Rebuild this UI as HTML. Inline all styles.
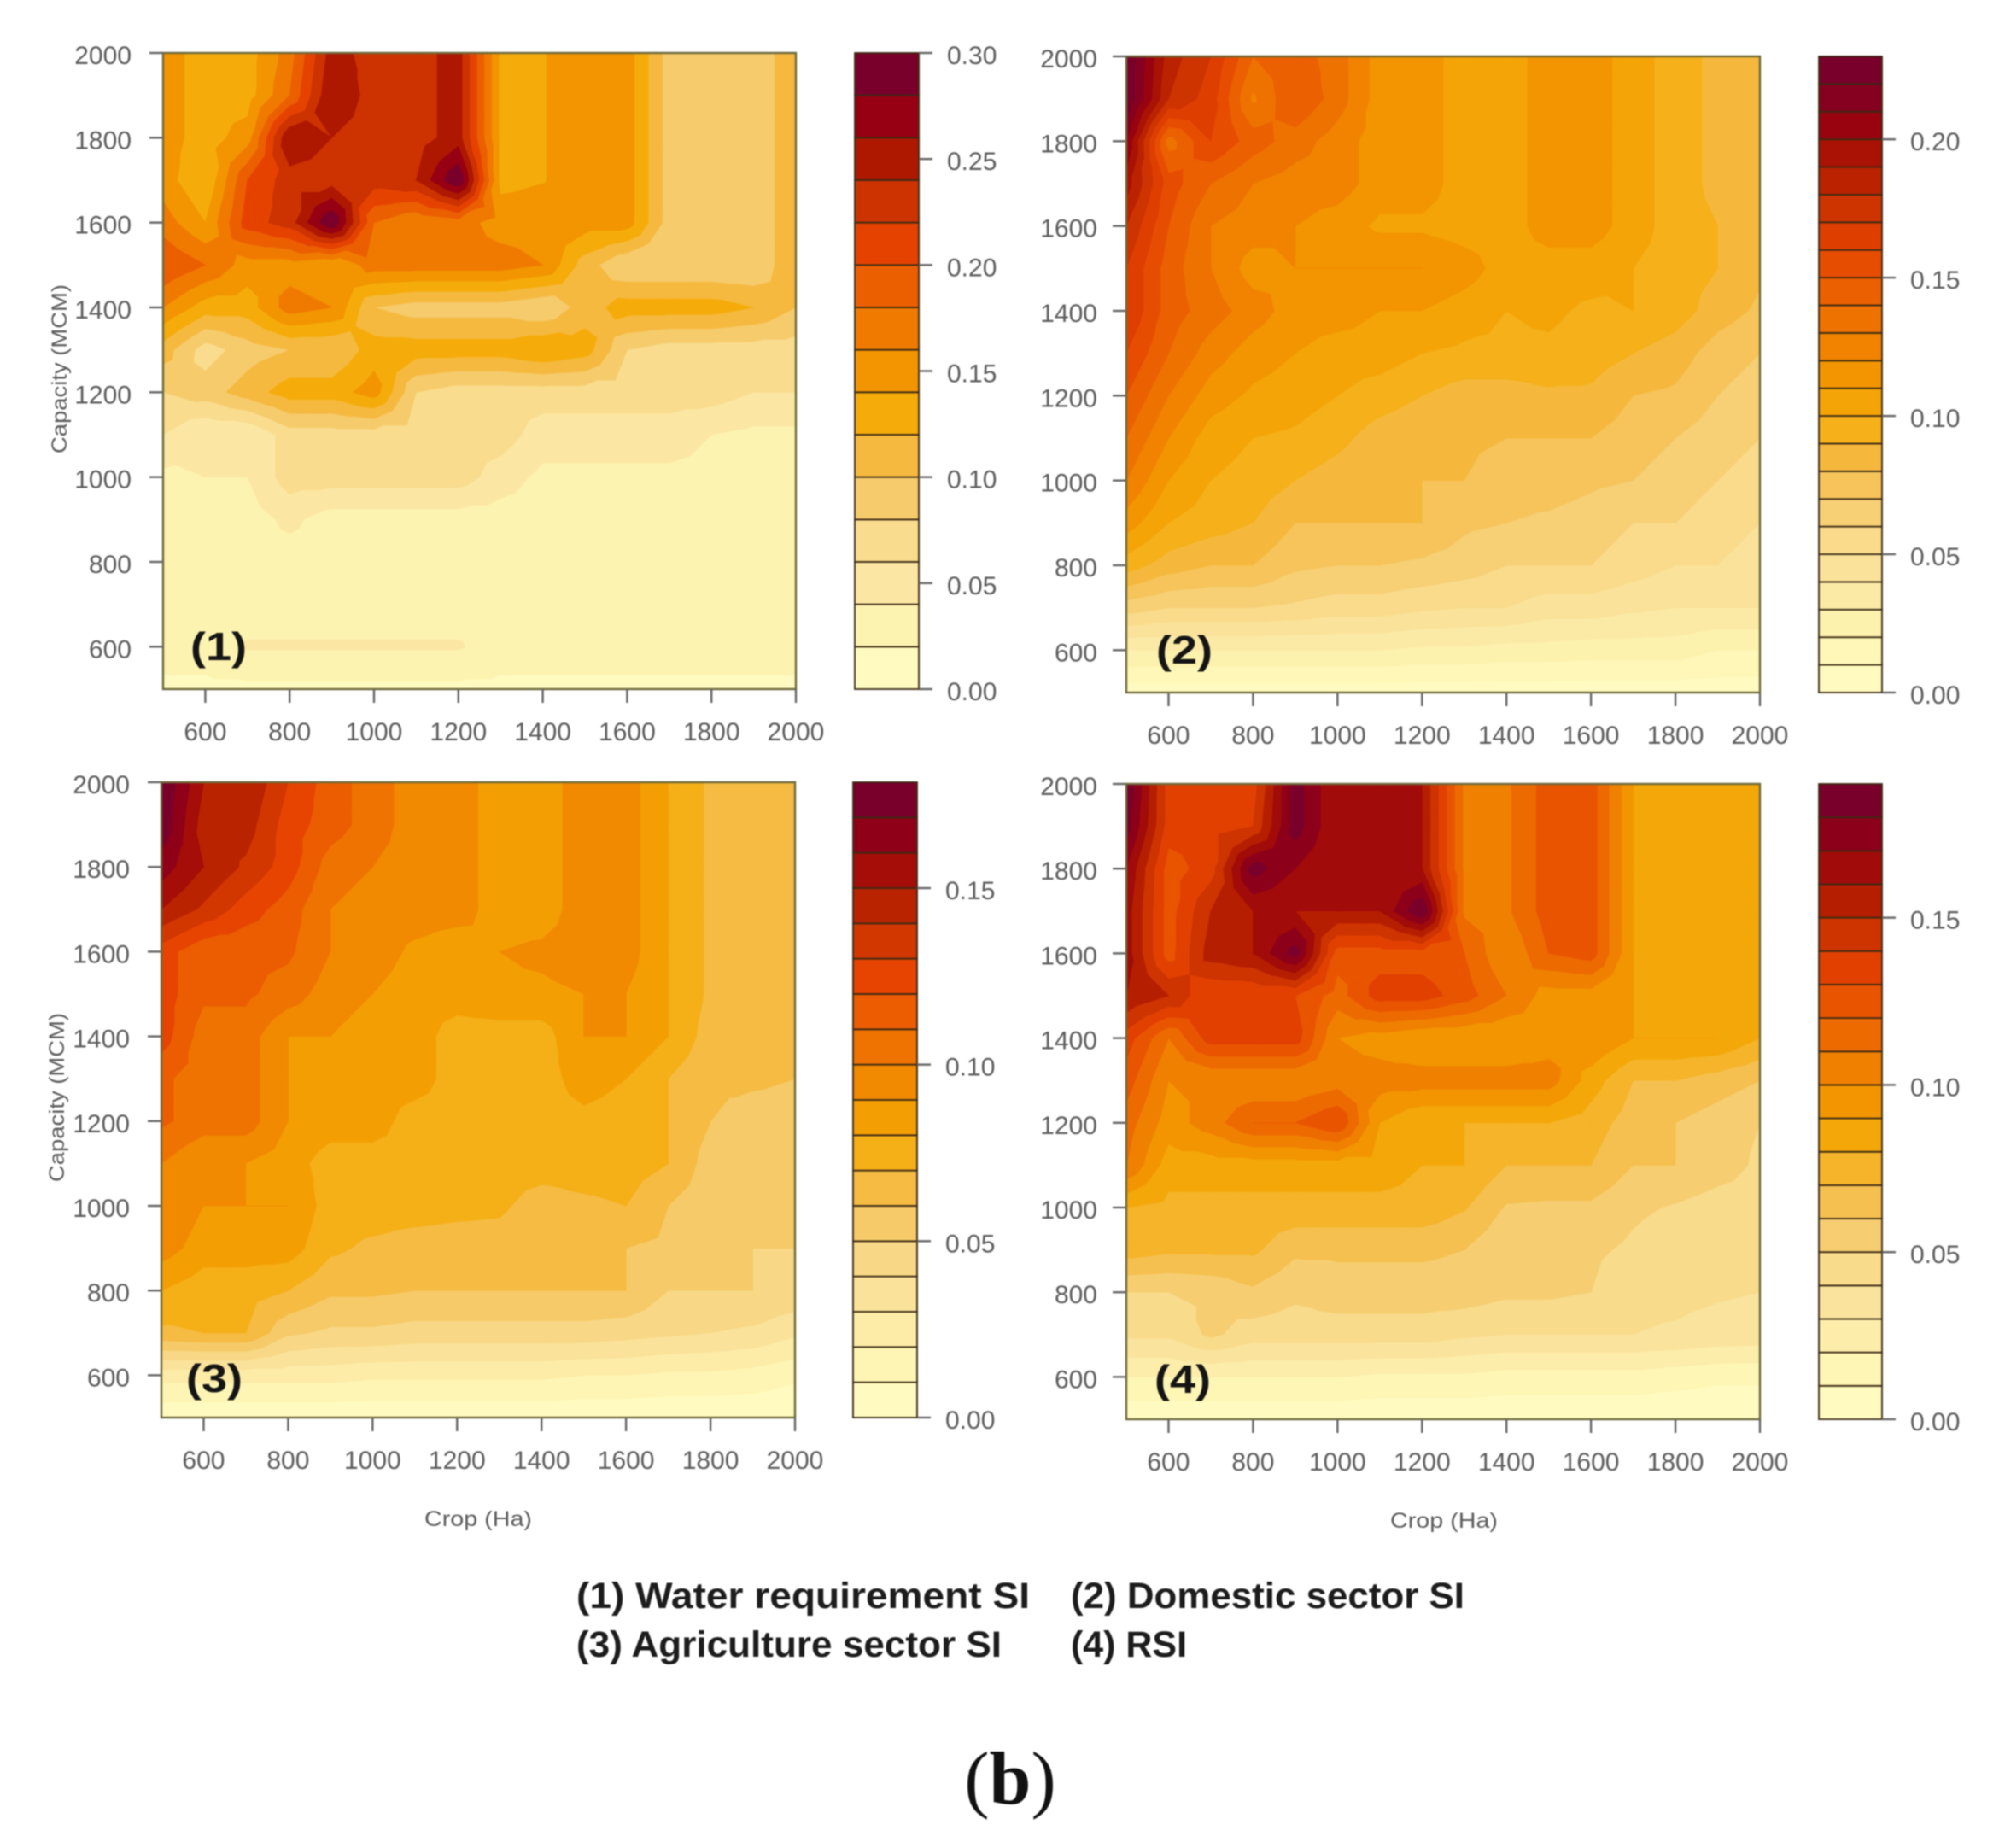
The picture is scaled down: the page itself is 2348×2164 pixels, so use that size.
<!DOCTYPE html>
<html lang="en">
<head>
<meta charset="utf-8">
<title>Sensitivity contour plots</title>
<style>
html,body{margin:0;padding:0;background:#fff;}
body{width:2348px;height:2164px;overflow:hidden;}
svg{display:block;filter:blur(0.9px);}
text{font-family:"Liberation Sans",sans-serif;}
</style>
</head>
<body>
<svg id="figure" xmlns="http://www.w3.org/2000/svg" width="2348" height="2164" viewBox="0 0 2348 2164">
  <rect width="2348" height="2164" fill="#fff"/>
  <g id="panels"></g>
  <g font-weight="700" font-size="43" fill="#1c1c1c">
    <text x="675" y="1883" textLength="531" lengthAdjust="spacingAndGlyphs">(1) Water requirement SI</text>
    <text x="1254" y="1883" textLength="461" lengthAdjust="spacingAndGlyphs">(2) Domestic sector SI</text>
    <text x="675" y="1940" textLength="498" lengthAdjust="spacingAndGlyphs">(3) Agriculture sector SI</text>
    <text x="1254" y="1940" textLength="136" lengthAdjust="spacingAndGlyphs">(4) RSI</text>
  </g>
  <text x="1183" y="2112" text-anchor="middle" font-size="88" fill="#111" style="font-family:'Liberation Serif',serif">(<tspan font-weight="700">b</tspan>)</text>
</svg>
<script>
const cropValues = [500,600,700,800,900,1000,1100,1200,1300,1400,1500,1600,1700,1800,1900,2000];
const capacityValues = [2000,1900,1800,1700,1600,1500,1400,1300,1200,1100,1000,900,800,700,600,500];
const xTickLabels = [600,800,1000,1200,1400,1600,1800,2000];
const yTickLabels = [600,800,1000,1200,1400,1600,1800,2000];

const waterRequirementSI = [
[.15,.13,.13,.17,.25,.23,.23,.25,.135,.139,.15,.15,.09,.09,.09,.11],
[.15,.13,.13,.18,.26,.23,.23,.25,.135,.139,.15,.15,.09,.09,.09,.11],
[.15,.13,.15,.26,.24,.23,.23,.25,.135,.139,.15,.15,.09,.09,.09,.11],
[.15,.12,.20,.23,.23,.23,.24,.30,.135,.139,.15,.15,.09,.09,.09,.11],
[.17,.14,.21,.23,.30,.18,.16,.17,.15,.15,.15,.15,.09,.09,.09,.11],
[.20,.18,.15,.15,.14,.17,.17,.17,.17,.16,.11,.08,.08,.08,.08,.12],
[.16,.13,.13,.17,.16,.10,.09,.09,.09,.08,.11,.13,.13,.13,.12,.10],
[.11,.07,.09,.10,.10,.13,.13,.13,.13,.14,.13,.08,.07,.07,.07,.07],
[.08,.09,.11,.13,.13,.15,.08,.07,.07,.07,.07,.07,.07,.07,.06,.06],
[.06,.04,.04,.07,.07,.07,.07,.07,.07,.05,.05,.05,.05,.04,.035,.035],
[.035,.04,.04,.07,.07,.07,.07,.07,.05,.035,.035,.035,.035,.035,.03,.03],
[.03,.03,.03,.045,.03,.03,.03,.03,.03,.03,.03,.03,.03,.03,.03,.03],
[.03,.03,.03,.03,.03,.03,.03,.03,.03,.03,.03,.03,.03,.03,.03,.03],
[.03,.03,.03,.03,.03,.03,.03,.03,.03,.03,.03,.03,.03,.03,.03,.03],
[.03,.03,.042,.042,.042,.042,.042,.042,.03,.03,.03,.03,.03,.03,.03,.03],
[.015,.015,.015,.015,.015,.015,.015,.015,.015,.015,.015,.015,.015,.015,.015,.015]
];

const domesticSectorSI = [
[.23,.185,.17,.14,.145,.135,.115,.115,.105,.105,.115,.115,.105,.095,.087,.085],
[.23,.18,.165,.128,.15,.135,.115,.115,.105,.105,.115,.115,.105,.095,.087,.085],
[.21,.135,.16,.145,.135,.125,.115,.115,.105,.105,.115,.115,.105,.095,.087,.085],
[.195,.155,.14,.13,.125,.125,.115,.115,.105,.105,.115,.115,.105,.095,.087,.085],
[.18,.15,.13,.125,.12,.115,.108,.108,.105,.105,.115,.115,.105,.095,.09,.085],
[.17,.145,.13,.115,.12,.12,.12,.12,.115,.105,.105,.105,.10,.095,.09,.082],
[.17,.145,.135,.125,.115,.115,.11,.11,.105,.10,.102,.098,.10,.095,.085,.078],
[.16,.14,.125,.115,.11,.105,.105,.10,.098,.098,.098,.095,.09,.085,.075,.07],
[.15,.13,.115,.108,.105,.10,.095,.09,.085,.085,.088,.088,.08,.078,.07,.065],
[.14,.12,.105,.10,.098,.093,.085,.082,.082,.08,.08,.08,.075,.07,.065,.06],
[.13,.11,.10,.096,.09,.085,.08,.08,.08,.075,.075,.072,.07,.065,.06,.055],
[.115,.10,.095,.09,.08,.08,.08,.08,.072,.07,.068,.065,.06,.06,.055,.05],
[.095,.085,.08,.08,.072,.07,.07,.068,.065,.06,.06,.06,.055,.05,.05,.045],
[.065,.06,.06,.06,.058,.055,.055,.052,.05,.05,.045,.045,.042,.04,.04,.04],
[.03,.03,.03,.03,.03,.03,.03,.028,.028,.026,.026,.025,.025,.025,.02,.02],
[.004,.004,.004,.004,.004,.004,.004,.004,.004,.004,.004,.004,.004,.004,.004,.004]
];

const agricultureSectorSI = [
[.18,.15,.15,.13,.115,.105,.095,.095,.085,.085,.095,.095,.08,.068,.065,.065],
[.178,.145,.145,.125,.115,.105,.095,.095,.085,.085,.095,.095,.08,.068,.065,.065],
[.165,.15,.138,.125,.105,.10,.095,.095,.085,.085,.095,.095,.08,.068,.065,.065],
[.15,.138,.125,.115,.10,.095,.095,.095,.085,.085,.095,.095,.08,.068,.065,.065],
[.125,.112,.112,.112,.10,.095,.088,.083,.09,.092,.095,.095,.08,.068,.065,.065],
[.125,.112,.112,.105,.095,.09,.085,.085,.088,.088,.09,.09,.08,.068,.065,.065],
[.125,.105,.105,.09,.09,.085,.085,.075,.075,.075,.09,.09,.08,.065,.065,.065],
[.112,.105,.105,.09,.085,.085,.085,.075,.075,.075,.085,.08,.07,.062,.062,.06],
[.112,.105,.105,.09,.085,.085,.075,.075,.075,.075,.077,.075,.07,.06,.055,.055],
[.10,.09,.09,.085,.075,.075,.075,.075,.075,.075,.075,.075,.07,.055,.052,.052],
[.10,.09,.09,.09,.075,.075,.075,.073,.072,.065,.068,.07,.06,.055,.05,.05],
[.095,.085,.085,.085,.072,.068,.065,.065,.065,.06,.06,.06,.058,.05,.05,.05],
[.08,.074,.074,.07,.062,.062,.06,.06,.06,.06,.06,.06,.05,.05,.05,.048],
[.068,.07,.07,.052,.048,.048,.046,.046,.046,.046,.046,.044,.042,.04,.038,.032],
[.024,.024,.024,.024,.024,.022,.022,.022,.022,.022,.02,.02,.018,.018,.016,.012],
[.002,.002,.002,.002,.002,.002,.002,.002,.002,.002,.002,.002,.002,.002,.002,.002]
];

const rsiValues = [
[.19,.135,.135,.135,.185,.16,.16,.16,.108,.108,.125,.125,.09,.085,.085,.085],
[.185,.135,.135,.14,.185,.16,.16,.16,.108,.108,.125,.125,.09,.085,.085,.085],
[.17,.125,.135,.185,.17,.16,.16,.16,.108,.108,.125,.125,.09,.085,.085,.085],
[.165,.125,.15,.16,.16,.16,.16,.19,.108,.108,.125,.125,.09,.085,.085,.085],
[.165,.125,.155,.16,.185,.125,.125,.125,.12,.10,.12,.125,.09,.085,.085,.085],
[.16,.15,.13,.13,.13,.115,.135,.135,.125,.11,.095,.095,.09,.085,.085,.085],
[.135,.11,.135,.135,.135,.10,.095,.09,.09,.09,.095,.10,.09,.09,.09,.08],
[.125,.10,.10,.10,.10,.105,.105,.105,.105,.105,.105,.085,.07,.07,.065,.06],
[.115,.095,.105,.12,.12,.13,.09,.08,.08,.08,.08,.075,.065,.06,.055,.05],
[.11,.085,.085,.085,.085,.085,.085,.08,.08,.07,.07,.07,.06,.06,.055,.048],
[.08,.077,.077,.077,.077,.077,.077,.077,.071,.059,.058,.058,.052,.049,.045,.045],
[.075,.072,.072,.072,.062,.062,.062,.062,.06,.052,.052,.052,.048,.044,.043,.043],
[.05,.05,.052,.058,.052,.055,.055,.055,.055,.052,.052,.05,.042,.042,.041,.04],
[.042,.042,.052,.045,.045,.045,.045,.045,.042,.04,.04,.04,.04,.039,.037,.036],
[.02,.02,.02,.02,.02,.02,.018,.018,.018,.016,.016,.016,.016,.014,.012,.012],
[.002,.002,.002,.002,.002,.002,.002,.002,.002,.002,.002,.002,.002,.002,.002,.002]
];

const ramp = ["#FFFBC0","#FDF3B0","#FBE7A3","#F9DC8E","#F6CB6C","#F5B93F","#F5AC0A","#F29500","#F07A00","#EB5F00","#E54200","#CC3300","#AE1700","#960012","#78002A"];

const SVGNS = "http://www.w3.org/2000/svg";
const root = document.getElementById("panels");

function make(tag, attrs, parent){
  const el = document.createElementNS(SVGNS, tag);
  for (const k in attrs) el.setAttribute(k, attrs[k]);
  parent.appendChild(el);
  return el;
}
function hex(c){return [parseInt(c.slice(1,3),16),parseInt(c.slice(3,5),16),parseInt(c.slice(5,7),16)];}
function rampColor(t){
  const p = Math.max(0,Math.min(ramp.length-1,t*ramp.length-0.5));
  const i = Math.min(ramp.length-2,Math.floor(p));
  const f = p-i, a = hex(ramp[i]), b = hex(ramp[i+1]);
  return "rgb("+a.map((v,j)=>Math.round(v+(b[j]-v)*f)).join(",")+")";
}
function clipTriangle(tri, level){
  const out = [];
  for (let i=0;i<tri.length;i++){
    const a = tri[i], b = tri[(i+1)%tri.length];
    const ina = a[2]>=level, inb = b[2]>=level;
    if (ina) out.push(a);
    if (ina!==inb){
      const f = (level-a[2])/(b[2]-a[2]);
      out.push([a[0]+(b[0]-a[0])*f,a[1]+(b[1]-a[1])*f,level]);
    }
  }
  return out;
}
function bandPath(z, level, xScale, yScale){
  let d = "";
  for (let r=0;r<capacityValues.length-1;r++){
    for (let c=0;c<cropValues.length-1;c++){
      const x0=xScale(cropValues[c]), x1=xScale(cropValues[c+1]);
      const y0=yScale(capacityValues[r]), y1=yScale(capacityValues[r+1]);
      const A=[x0,y0,z[r][c]], B=[x1,y0,z[r][c+1]], C=[x1,y1,z[r+1][c+1]], D=[x0,y1,z[r+1][c]];
      const M=[(x0+x1)/2,(y0+y1)/2,(A[2]+B[2]+C[2]+D[2])/4];
      [[A,B,M],[B,C,M],[C,D,M],[D,A,M]].forEach(tri=>{
        const poly = clipTriangle(tri, level);
        if (poly.length>2){
          d += "M"+poly.map(p=>p[0].toFixed(1)+" "+p[1].toFixed(1)).join("L")+"Z";
        }
      });
    }
  }
  return d;
}

function drawPanel(o){
  const g = make("g",{},root);
  
  
  const xScale = v => o.left + (v-500)/1500*(o.right-o.left);
  const yScale = v => o.bottom - (v-500)/1500*(o.bottom-o.top);
  const levels = Math.round(o.max/o.step);

  for (let k=0;k<levels;k++){
    const d = bandPath(o.z, k*o.step, xScale, yScale);
    const col = rampColor((k+0.5)/levels);
    const p = make("path",{d:d,fill:col,stroke:col,"stroke-width":0.7},g);
    
    
  }

  const box = make("rect",{x:o.left,y:o.top,width:o.right-o.left,height:o.bottom-o.top,fill:"none",stroke:"#6e6a3c","stroke-width":2.4},g);
  
  

  xTickLabels.forEach(v=>{
    const x = xScale(v);
    const t = make("line",{x1:x,x2:x,y1:o.bottom,y2:o.bottom+16,stroke:"#666","stroke-width":2.4},g);
    
    
    const l = make("text",{x:x,y:o.bottom+60,"text-anchor":"middle","font-size":30,fill:"#5c5c5c"},g);
    
    
    l.textContent = v;
  });
  yTickLabels.forEach(v=>{
    const y = yScale(v);
    const t = make("line",{x1:o.left-16,x2:o.left,y1:y,y2:y,stroke:"#666","stroke-width":2.4},g);
    
    
    const l = make("text",{x:o.left-o.yLabelGap,y:y+13,"text-anchor":"end","font-size":30,fill:"#5c5c5c"},g);
    
    
    l.textContent = v;
  });

  const barScale = v => o.bottom - v/o.max*(o.bottom-o.top);
  for (let k=0;k<levels;k++){
    const y1 = barScale(k*o.step), y2 = barScale((k+1)*o.step);
    const r = make("rect",{x:o.barL,y:y2,width:o.barR-o.barL,height:y1-y2,fill:rampColor((k+0.5)/levels),stroke:"#3c2a14","stroke-width":1.8},g);
    
    
  }
  o.barTicks.forEach(v=>{
    const y = barScale(v);
    const t = make("line",{x1:o.barR,x2:o.barR+16,y1:y,y2:y,stroke:"#666","stroke-width":2.4},g);
    
    
    const l = make("text",{x:o.barR+33,y:y+13,"font-size":30,fill:"#5c5c5c"},g);
    
    
    l.textContent = v.toFixed(2);
  });

  const tag = make("text",{x:o.tagX,y:o.tagY+14,"font-size":46,"font-weight":700,fill:"#141414",textLength:66,lengthAdjust:"spacingAndGlyphs"},g);
  
  
  tag.textContent = o.tag;

  if (o.yTitle){
    const yt = make("text",{transform:"translate("+o.yTitle[0]+" "+o.yTitle[1]+") rotate(-90)","text-anchor":"middle","font-size":25,fill:"#5c5c5c",textLength:198,lengthAdjust:"spacingAndGlyphs"},g);
    
    
    yt.textContent = "Capacity (MCM)";
  }
  if (o.xTitle){
    const xt = make("text",{x:o.xTitle[0],y:o.xTitle[1],"text-anchor":"middle","font-size":25,fill:"#5c5c5c",textLength:126,lengthAdjust:"spacingAndGlyphs"},g);
    
    
    xt.textContent = "Crop (Ha)";
  }
}

drawPanel({name:"panel-water-requirement",z:waterRequirementSI,max:.30,step:.02,barTicks:[0,.05,.10,.15,.20,.25,.30],
  left:191,right:932,top:62,bottom:807,barL:1001,barR:1076,yLabelGap:37,tag:"(1)",tagX:223,tagY:759,yTitle:[78,432]});
drawPanel({name:"panel-domestic-sector",z:domesticSectorSI,max:.23,step:.01,barTicks:[0,.05,.10,.15,.20],
  left:1319,right:2061,top:66,bottom:811,barL:2130,barR:2204,yLabelGap:34,tag:"(2)",tagX:1354,tagY:763});
drawPanel({name:"panel-agriculture-sector",z:agricultureSectorSI,max:.18,step:.01,barTicks:[0,.05,.10,.15],
  left:189,right:931,top:916,bottom:1660,barL:999,barR:1074,yLabelGap:37,tag:"(3)",tagX:218,tagY:1616,yTitle:[75,1285],xTitle:[560,1787]});
drawPanel({name:"panel-rsi",z:rsiValues,max:.19,step:.01,barTicks:[0,.05,.10,.15],
  left:1319,right:2061,top:918,bottom:1662,barL:2130,barR:2204,yLabelGap:34,tag:"(4)",tagX:1352,tagY:1617,xTitle:[1691,1789]});
</script>
</body>
</html>
